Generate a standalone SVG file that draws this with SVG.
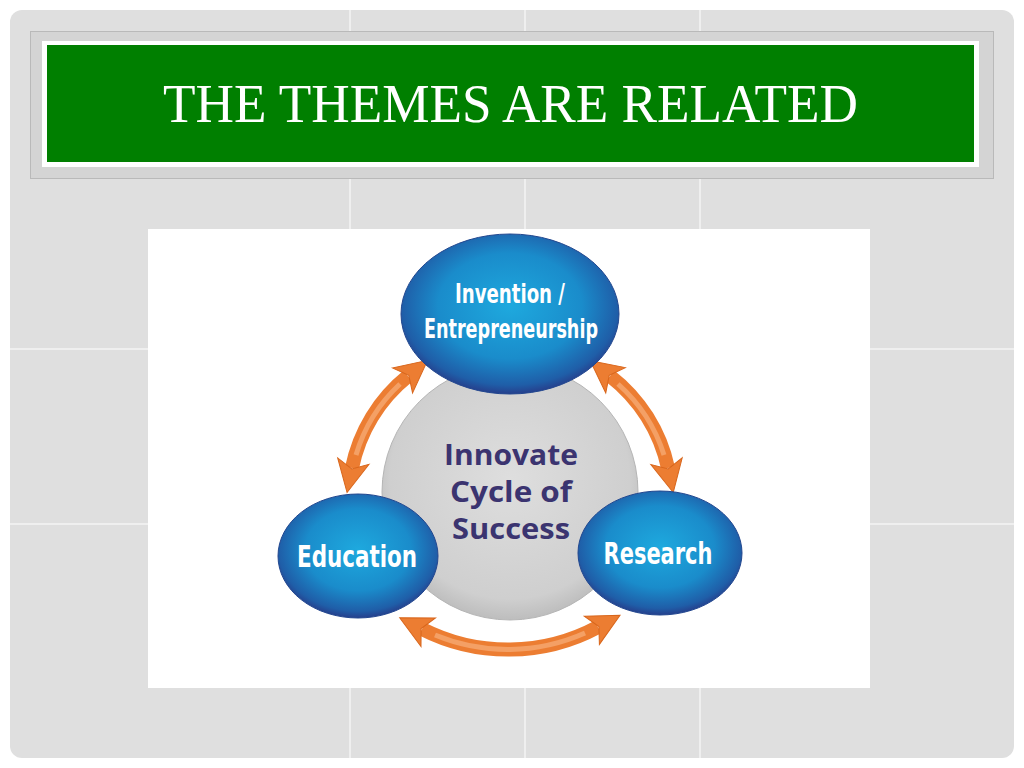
<svg xmlns="http://www.w3.org/2000/svg" width="1024" height="768" viewBox="0 0 1024 768">
<style>
.grid{stroke:#f4f4f4;stroke-width:1.5}
.title{font-family:"Liberation Serif","DejaVu Serif",serif;font-size:54px;fill:#ffffff}
.lbl{font-family:"Liberation Sans Narrow","DejaVu Sans Condensed","Liberation Sans",sans-serif;font-weight:bold;fill:#ffffff;text-anchor:middle}
.ctr{font-family:"Open Sans","Liberation Sans",sans-serif;font-weight:bold;fill:#3b3470;font-size:29px;text-anchor:middle}
.shaft{fill:none;stroke:#ec7d32;stroke-width:14;marker-start:url(#head);marker-end:url(#head)}
.hl{fill:none;stroke:#f4a065;stroke-width:5}
.node{stroke:#22478f;stroke-width:1}
</style>
<defs>
<radialGradient id="blue" cx="0.5" cy="0.45" r="0.55">
<stop offset="0" stop-color="#1ea9de"/>
<stop offset="0.6" stop-color="#1a8ccb"/>
<stop offset="0.9" stop-color="#1f5ea8"/>
<stop offset="1" stop-color="#263f8c"/>
</radialGradient>
<radialGradient id="gray" cx="0.5" cy="0.45" r="0.55">
<stop offset="0" stop-color="#dedede"/>
<stop offset="0.85" stop-color="#cfcfcf"/>
<stop offset="1" stop-color="#bdbdbd"/>
</radialGradient>
<marker id="head" viewBox="0 0 36 36" refX="9" refY="18" markerWidth="36" markerHeight="36" markerUnits="userSpaceOnUse" orient="auto-start-reverse">
<path d="M2,2 L34,18 L2,34 L10,18 Z" fill="#ec7d32" stroke="#d8661c" stroke-width="1"/>
</marker>
</defs>
<rect width="1024" height="768" fill="#ffffff"/>
<rect x="10" y="10" width="1004" height="748" rx="12" fill="#dfdfdf"/>
<g id="grid">
<line class="grid" x1="350" y1="10" x2="350" y2="758"/>
<line class="grid" x1="525" y1="10" x2="525" y2="758"/>
<line class="grid" x1="700" y1="10" x2="700" y2="758"/>
<line class="grid" x1="10" y1="349" x2="1014" y2="349"/>
<line class="grid" x1="10" y1="524" x2="1014" y2="524"/>
</g>
<g id="title">
<rect x="30.5" y="31.5" width="963" height="147" fill="#d4d4d4" stroke="#b9b9b9"/>
<rect x="42" y="41" width="937" height="126" fill="#ffffff"/>
<rect x="47" y="45" width="927" height="117" fill="#007f00"/>
<text class="title" x="163" y="122" textLength="695" lengthAdjust="spacingAndGlyphs">THE THEMES ARE RELATED</text>
</g>
<rect x="148" y="229" width="722" height="459" fill="#ffffff"/>
<g id="center">
<circle cx="510" cy="492" r="128" fill="url(#gray)" stroke="#b5b5b5" stroke-width="1"/>
<text class="ctr" x="511" y="465" textLength="134" lengthAdjust="spacingAndGlyphs">Innovate</text>
<text class="ctr" x="511" y="502" textLength="122" lengthAdjust="spacingAndGlyphs">Cycle of</text>
<text class="ctr" x="511" y="539" textLength="118" lengthAdjust="spacingAndGlyphs">Success</text>
</g>
<g id="connectors">
<path class="shaft" d="M352,468 A158,158 0 0 1 408,376"/>
<path class="hl" d="M356,455 A158,158 0 0 1 400,384"/>
<path class="shaft" d="M610,376 A158,158 0 0 1 668,468"/>
<path class="hl" d="M618,384 A158,158 0 0 1 664,455"/>
<path class="shaft" d="M422,629 A190,190 0 0 0 598,627"/>
<path class="hl" d="M435,635 A190,190 0 0 0 585,633"/>
</g>
<g id="invention">
<ellipse class="node" cx="510" cy="314" rx="109" ry="80" fill="url(#blue)"/>
<text class="lbl" x="510" y="303" font-size="26" textLength="110" lengthAdjust="spacingAndGlyphs">Invention /</text>
<text class="lbl" x="511" y="338" font-size="26" textLength="174" lengthAdjust="spacingAndGlyphs">Entrepreneurship</text>
</g>
<g id="education">
<ellipse class="node" cx="358" cy="556" rx="80" ry="62" fill="url(#blue)"/>
<text class="lbl" x="357" y="567" font-size="31" textLength="120" lengthAdjust="spacingAndGlyphs">Education</text>
</g>
<g id="research">
<ellipse class="node" cx="660" cy="553" rx="82" ry="62" fill="url(#blue)"/>
<text class="lbl" x="658" y="564" font-size="31" textLength="109" lengthAdjust="spacingAndGlyphs">Research</text>
</g>
</svg>
